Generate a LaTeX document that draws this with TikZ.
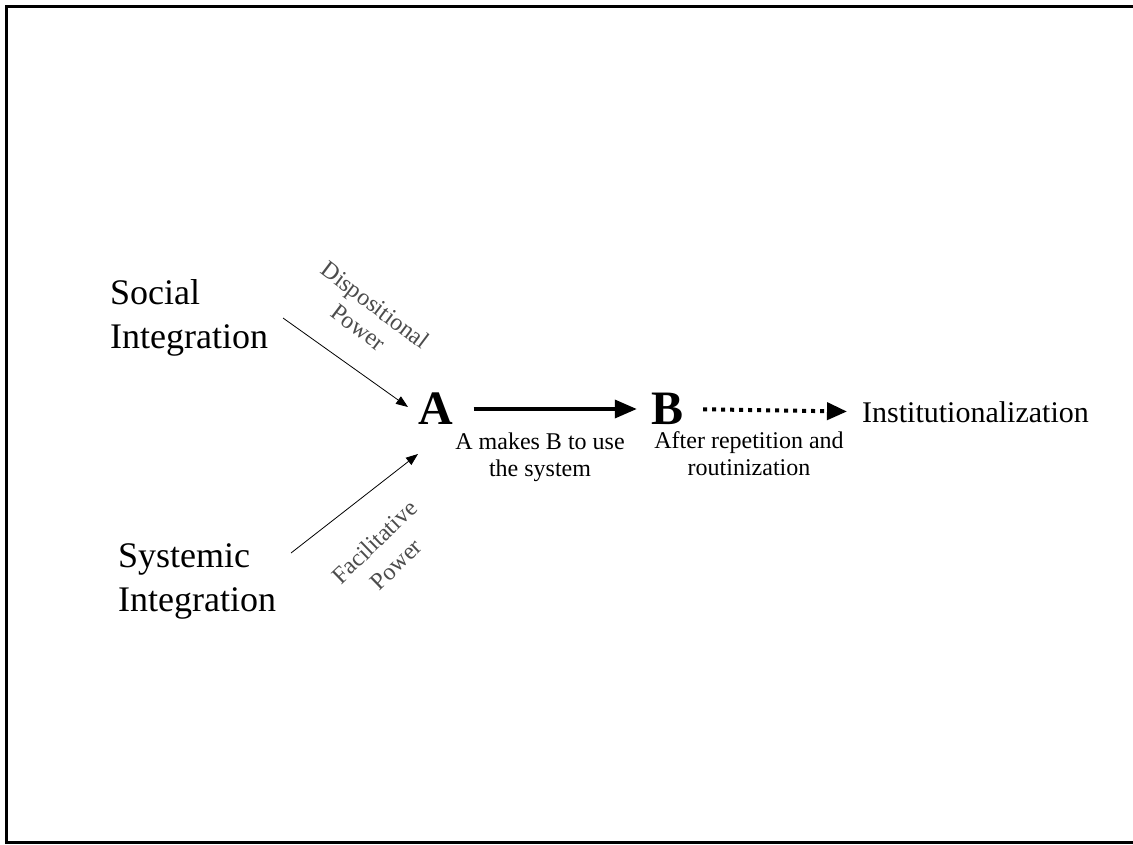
\documentclass[tikz,border=0pt]{standalone}
\usepackage{fontspec}
\setmainfont{Liberation Serif}
\usetikzlibrary{arrows.meta}
\begin{document}
\begin{tikzpicture}[x=1pt,y=-1pt,
  bigtext/.style={inner sep=0pt,align=left,font=\fontsize{36}{44}\selectfont},
  letter/.style={inner sep=0pt,font=\fontsize{48}{48}\selectfont\bfseries},
  caption/.style={inner sep=0pt,align=center,font=\fontsize{24}{27}\selectfont},
  powerlabel/.style={inner sep=0pt,align=center,text=black!70,font=\fontsize{24}{28}\selectfont},
  thinarrow/.style={line width=0.8pt,-{Triangle[length=12pt,width=9pt]}},
  thickarrow/.style={line width=3.5pt,-{Triangle[length=22pt,width=18pt]}},
  dotarrow/.style={line width=4pt,dash pattern=on 4pt off 5pt,-{Triangle[length=20pt,width=17pt]}}]
\useasboundingbox (0,0) rectangle (1133,844);
\fill[white] (0,0) rectangle (1133,844);
\draw[line width=3pt] (6,6) rectangle (1145,842);

\node[bigtext,anchor=west] (soc) at (110,318) {Social\\Integration};
\node[bigtext,anchor=west] (sys) at (118,581) {Systemic\\Integration};
\node[letter] (A) at (436,409) {A};
\node[letter] (B) at (668,409) {B};
\node[inner sep=0pt,anchor=base west,font=\fontsize{30}{30}\selectfont] (inst) at (862,422) {Institutionalization};

\node[caption] (capA) at (540,457) {A makes B to use\\the system};
\node[caption] (capB) at (749,454) {After repetition and\\routinization};

\node[powerlabel,rotate=-37] (disp) at (367,316) {Dispositional\\Power};
\node[powerlabel,rotate=44,font=\fontsize{24}{31}\selectfont] (facil) at (385,553) {Facilitative\\Power};

\coordinate (s1) at (283,318);
\coordinate (t1) at (408,407);
\coordinate (s2) at (291,553);
\coordinate (t2) at (418,454);
\draw[thinarrow] (s1) -- (t1);
\draw[thinarrow] (s2) -- (t2);
\draw[thickarrow,shorten <=20pt,shorten >=15pt] (A.east) -- (B.west);
\draw[dotarrow,shorten <=19pt,shorten >=15pt] (B.east) -- (inst.west);
\end{tikzpicture}
\end{document}
